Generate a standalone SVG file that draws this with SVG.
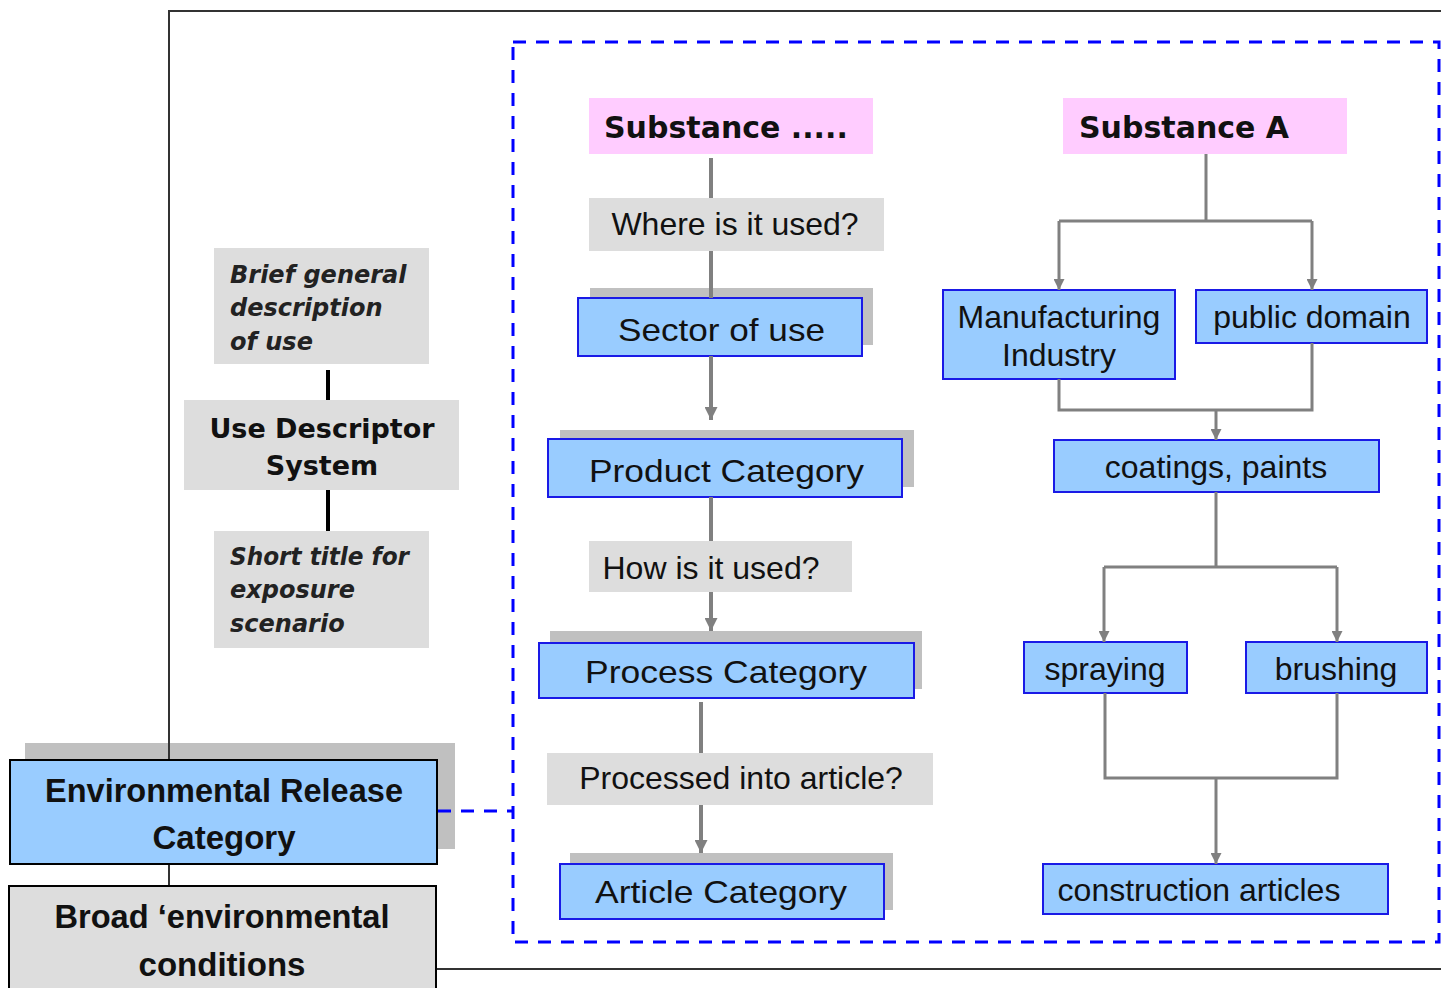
<svg xmlns="http://www.w3.org/2000/svg" width="1441" height="988" viewBox="0 0 1441 988">
<style>
.sans{font-family:"Liberation Sans",Arial,sans-serif;fill:#111}
.dv{font-family:"DejaVu Sans",Verdana,sans-serif;font-weight:bold;fill:#111}
.it{font-family:"DejaVu Sans",Verdana,sans-serif;font-weight:bold;font-style:italic;font-size:24px;fill:#222}
.blue{fill:#99ccff;stroke:#1a1ae6;stroke-width:2}
.shadow{fill:#c0c0c0}
.grey{fill:#dddddd}
.pink{fill:#ffccff}
.conn{fill:none;stroke:#808080;stroke-width:4}
.conn2{fill:none;stroke:#808080;stroke-width:3}
.frame{fill:none;stroke:#333;stroke-width:2}
.blk{stroke:#000;stroke-width:4}
</style>
<defs>
<marker id="ah" viewBox="0 0 10 10" refX="10" refY="5" markerWidth="15" markerHeight="13" orient="auto" markerUnits="userSpaceOnUse">
<path d="M0,0 L10,5 L0,10 z" fill="#808080"/>
</marker>
<marker id="ah2" viewBox="0 0 10 10" refX="10" refY="5" markerWidth="12" markerHeight="11" orient="auto" markerUnits="userSpaceOnUse">
<path d="M0,0 L10,5 L0,10 z" fill="#808080"/>
</marker>
</defs>
<rect width="1441" height="988" fill="#fff"/>

<rect id="container" x="513" y="42" width="926" height="900" fill="none" stroke="#0000ff" stroke-width="3" stroke-dasharray="13,10"/>

<g id="substance-dots">
<rect class="pink" x="589" y="98" width="284" height="56"/>
<text class="dv" x="604" y="138" font-size="30">Substance .....</text>
</g>
<g id="where-used">
<rect class="grey" x="589" y="198" width="295" height="53"/>
<text class="sans" x="735" y="235" font-size="32" text-anchor="middle">Where is it used?</text>
</g>
<g id="sector">
<rect class="shadow" x="590" y="288" width="283" height="57"/>
<rect class="blue" x="578" y="298" width="284" height="58"/>
<text class="sans" x="618" y="341" font-size="32" textLength="207" lengthAdjust="spacingAndGlyphs">Sector of use</text>
</g>
<g id="product">
<rect class="shadow" x="560" y="430" width="354" height="57"/>
<rect class="blue" x="548" y="439" width="354" height="58"/>
<text class="sans" x="589" y="482" font-size="32" textLength="275" lengthAdjust="spacingAndGlyphs">Product Category</text>
</g>
<g id="how-used">
<rect class="grey" x="589" y="541" width="263" height="51"/>
<text class="sans" x="711" y="579" font-size="32" text-anchor="middle">How is it used?</text>
</g>
<g id="process">
<rect class="shadow" x="550" y="631" width="372" height="58"/>
<rect class="blue" x="539" y="643" width="375" height="55"/>
<text class="sans" x="585" y="683" font-size="32" textLength="282" lengthAdjust="spacingAndGlyphs">Process Category</text>
</g>
<g id="processed">
<rect class="grey" x="547" y="753" width="386" height="52"/>
<text class="sans" x="741" y="789" font-size="32" text-anchor="middle">Processed into article?</text>
</g>
<g id="article">
<rect class="shadow" x="570" y="853" width="323" height="57"/>
<rect class="blue" x="560" y="864" width="324" height="55"/>
<text class="sans" x="595" y="903" font-size="32" textLength="252" lengthAdjust="spacingAndGlyphs">Article Category</text>
</g>

<g id="substance-a">
<rect class="pink" x="1063" y="98" width="284" height="56"/>
<text class="dv" x="1079" y="138" font-size="30">Substance A</text>
</g>
<g id="manufacturing">
<rect class="blue" x="943" y="290" width="232" height="89"/>
<text class="sans" x="1059" y="328" font-size="32" text-anchor="middle">Manufacturing</text>
<text class="sans" x="1059" y="366" font-size="32" text-anchor="middle">Industry</text>
</g>
<g id="public">
<rect class="blue" x="1196" y="290" width="231" height="53"/>
<text class="sans" x="1312" y="328" font-size="32" text-anchor="middle">public domain</text>
</g>
<g id="coatings">
<rect class="blue" x="1054" y="440" width="325" height="52"/>
<text class="sans" x="1216" y="478" font-size="32" text-anchor="middle">coatings, paints</text>
</g>
<g id="spraying">
<rect class="blue" x="1024" y="642" width="163" height="51"/>
<text class="sans" x="1105" y="680" font-size="32" text-anchor="middle">spraying</text>
</g>
<g id="brushing">
<rect class="blue" x="1246" y="642" width="181" height="51"/>
<text class="sans" x="1336" y="680" font-size="32" text-anchor="middle">brushing</text>
</g>
<g id="construction">
<rect class="blue" x="1043" y="864" width="345" height="50"/>
<text class="sans" x="1199" y="901" font-size="32" text-anchor="middle">construction articles</text>
</g>

<g id="brief">
<rect class="grey" x="214" y="248" width="215" height="116"/>
<text class="it" x="230" y="283">Brief general</text>
<text class="it" x="230" y="316">description</text>
<text class="it" x="230" y="350">of use</text>
</g>
<g id="uds">
<rect class="grey" x="184" y="400" width="275" height="90"/>
<text class="dv" x="322" y="438" font-size="27" text-anchor="middle">Use Descriptor</text>
<text class="dv" x="322" y="475" font-size="27" text-anchor="middle">System</text>
</g>
<g id="short">
<rect class="grey" x="214" y="531" width="215" height="117"/>
<text class="it" x="230" y="565" textLength="179" lengthAdjust="spacingAndGlyphs">Short title for</text>
<text class="it" x="230" y="598">exposure</text>
<text class="it" x="230" y="632">scenario</text>
</g>

<g id="erc-shadow">
<rect class="shadow" x="25" y="743" width="430" height="106"/>
</g>

<g id="frame">
<path class="frame" d="M1441,11 L169,11 L169,886"/>
<path class="frame" d="M437,969 L1441,969"/>
</g>

<g id="connectors">
<line class="conn" x1="711" y1="158" x2="711" y2="198"/>
<line class="conn" x1="711" y1="251" x2="711" y2="298"/>
<line class="conn" x1="711" y1="356" x2="711" y2="420" marker-end="url(#ah)"/>
<line class="conn" x1="711" y1="497" x2="711" y2="541"/>
<line class="conn" x1="711" y1="592" x2="711" y2="631" marker-end="url(#ah)"/>
<line class="conn" x1="701" y1="702" x2="701" y2="753"/>
<line class="conn" x1="701" y1="805" x2="701" y2="853" marker-end="url(#ah)"/>
<path class="conn2" d="M1206,154 V221 M1059,221 H1312"/>
<line class="conn2" x1="1059" y1="221" x2="1059" y2="290" marker-end="url(#ah2)"/>
<line class="conn2" x1="1312" y1="221" x2="1312" y2="290" marker-end="url(#ah2)"/>
<path class="conn2" d="M1059,379 V410 H1312 V343"/>
<line class="conn2" x1="1216" y1="410" x2="1216" y2="440" marker-end="url(#ah2)"/>
<path class="conn2" d="M1216,492 V567 M1104,567 H1337"/>
<line class="conn2" x1="1104" y1="567" x2="1104" y2="642" marker-end="url(#ah2)"/>
<line class="conn2" x1="1337" y1="567" x2="1337" y2="642" marker-end="url(#ah2)"/>
<path class="conn2" d="M1105,693 V778 H1337 V693"/>
<line class="conn2" x1="1216" y1="778" x2="1216" y2="864" marker-end="url(#ah2)"/>
<line class="blk" x1="328" y1="370" x2="328" y2="400"/>
<line class="blk" x1="328" y1="490" x2="328" y2="531"/>
<line x1="438" y1="811" x2="513" y2="811" stroke="#0000ff" stroke-width="3" stroke-dasharray="13,10"/>
</g>

<g id="erc">
<rect x="10" y="760" width="427" height="104" fill="#99ccff" stroke="#000" stroke-width="2"/>
<text class="sans" x="224" y="802" font-size="33" font-weight="bold" text-anchor="middle" textLength="358" lengthAdjust="spacingAndGlyphs">Environmental Release</text>
<text class="sans" x="224" y="849" font-size="33" font-weight="bold" text-anchor="middle">Category</text>
</g>
<g id="broad">
<rect x="9" y="886" width="427" height="110" fill="#dddddd" stroke="#000" stroke-width="2"/>
<text class="sans" x="222" y="928" font-size="33" font-weight="bold" text-anchor="middle" textLength="335" lengthAdjust="spacingAndGlyphs">Broad ‘environmental</text>
<text class="sans" x="222" y="976" font-size="33" font-weight="bold" text-anchor="middle">conditions</text>
</g>
</svg>
